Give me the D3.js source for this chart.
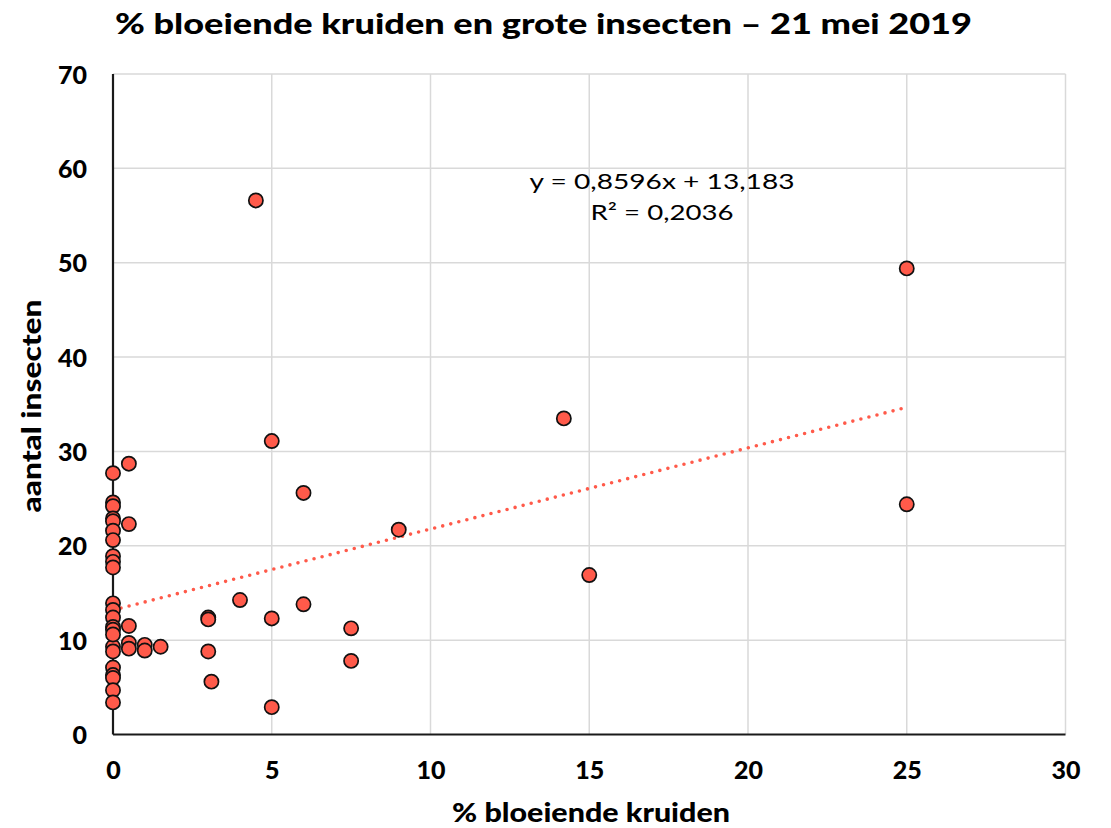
<!DOCTYPE html>
<html><head><meta charset="utf-8">
<script src="https://cdn.jsdelivr.net/npm/d3@7"></script>
<style>body{margin:0;background:#fff}svg{display:block}</style>
</head><body>
<svg id="c" width="1111" height="828"></svg>
<script>
const bloei = [0,0,0,0,0,0,0,0,0,0,
  0,0,0,0,0,0,0,0,
  0,0,0,0,0,
  0.5,0.5,0.5,0.5,0.5,1,1,1.5,
  3,3,3,3.1,4,4.5,5,5,5,6,6,7.5,7.5,9,14.2,15,25,25];
const insecten = [27.7,24.6,24.2,22.9,22.6,21.6,20.6,18.9,18.3,17.7,
  13.9,13.2,12.4,11.4,11.1,9.3,8.8,7.1,
  6.3,6.0,4.7,3.4,10.6,
  28.7,22.3,11.5,9.7,9.1,9.5,8.9,9.3,
  12.4,12.2,8.8,5.6,14.25,56.6,31.1,12.3,2.9,25.6,13.8,11.25,7.8,21.7,33.5,16.9,49.4,24.4];
const xTicks = [0,5,10,15,20,25,30];
const yTicks = [0,10,20,30,40,50,60,70];
const trendSlope = [0.8596];
const trendIntercept = [13.183];
const trendRange = [0,25];
const titleText = "% bloeiende kruiden en grote insecten \u2013 21 mei 2019";
const xTitle = "% bloeiende kruiden";
const yTitle = "aantal insecten";
const eqLines = ["y = 0,8596x + 13,183", "R\u00B2 = 0,2036"];

const svg = d3.select("#c");
const L = 113, R = 1065.5, T = 74, B = 734.5;
const x = d3.scaleLinear().domain([0,30]).range([L,R]);
const y = d3.scaleLinear().domain([0,70]).range([B,T]);
const bold = "Lato, 'Open Sans', sans-serif";

// grid
svg.append("g").selectAll("line.v").data(xTicks.filter(d=>d>0)).join("line")
  .attr("x1",d=>x(d)).attr("x2",d=>x(d)).attr("y1",T).attr("y2",B)
  .attr("stroke","#d9d9d9").attr("stroke-width",1.5);
svg.append("g").selectAll("line.h").data(yTicks.filter(d=>d>0)).join("line")
  .attr("x1",L).attr("x2",R).attr("y1",d=>y(d)).attr("y2",d=>y(d))
  .attr("stroke","#d9d9d9").attr("stroke-width",1.5);

// axes via d3 axis, styled
const xa = svg.append("g").attr("transform",`translate(0,${B})`)
  .call(d3.axisBottom(x).tickValues(xTicks).tickSize(0).tickPadding(30));
const ya = svg.append("g").attr("transform",`translate(${L},0)`)
  .call(d3.axisLeft(y).tickValues(yTicks).tickSize(0).tickPadding(26));
[xa,ya].forEach(g=>{
  g.select(".domain").attr("stroke","#1a1a1a").attr("stroke-width",2.2);
  g.selectAll("text").attr("font-family",bold).attr("font-weight",900)
   .attr("font-size",25).attr("fill","#000");
});
xa.selectAll(".tick text").attr("dy","0.71em").attr("y",27);
ya.selectAll(".tick text").attr("dy","0.36em");
xa.select(".domain").attr("d",`M${L},0H${R}`);
ya.select(".domain").attr("d",`M0,${T}V${B}`);

// trendline
const tl = trendRange.map(v=>[v, trendSlope[0]*v + trendIntercept[0]]);
svg.append("path").attr("d", d3.line().x(d=>x(d[0])).y(d=>y(d[1]))(tl))
  .attr("fill","none").attr("stroke","#ff5a4a").attr("stroke-width",3.6)
  .attr("stroke-linecap","round").attr("stroke-dasharray","0 8.3");

// points
svg.append("g").selectAll("circle").data(bloei.map((b,i)=>[b,insecten[i]])).join("circle")
  .attr("cx",d=>x(d[0])).attr("cy",d=>y(d[1])).attr("r",7.1)
  .attr("fill","#ff5a4a").attr("stroke","#111").attr("stroke-width",1.7);

function fitText(sel, w){ sel.attr("textLength",w).attr("lengthAdjust","spacingAndGlyphs"); }

// title
fitText(svg.append("text").attr("x",543.5).attr("y",34).attr("text-anchor","middle")
  .attr("font-family",bold).attr("font-weight",900).attr("font-size",29).text(titleText), 857);
// x title
fitText(svg.append("text").attr("x",591).attr("y",822).attr("text-anchor","middle")
  .attr("font-family",bold).attr("font-weight",900).attr("font-size",26).text(xTitle), 278);
// y title
fitText(svg.append("text").attr("transform","translate(41,406) rotate(-90)").attr("text-anchor","middle")
  .attr("font-family",bold).attr("font-weight",900).attr("font-size",26).text(yTitle), 213);
// equation
const eqW = [265,143], eqY = [189,220];
eqLines.forEach((t,i)=>{
  fitText(svg.append("text").attr("x",662).attr("y",eqY[i]).attr("text-anchor","middle")
    .attr("font-family",bold).attr("font-weight",400).attr("font-size",22).attr("fill","#000").text(t), eqW[i]);
});
</script>
</body></html>
